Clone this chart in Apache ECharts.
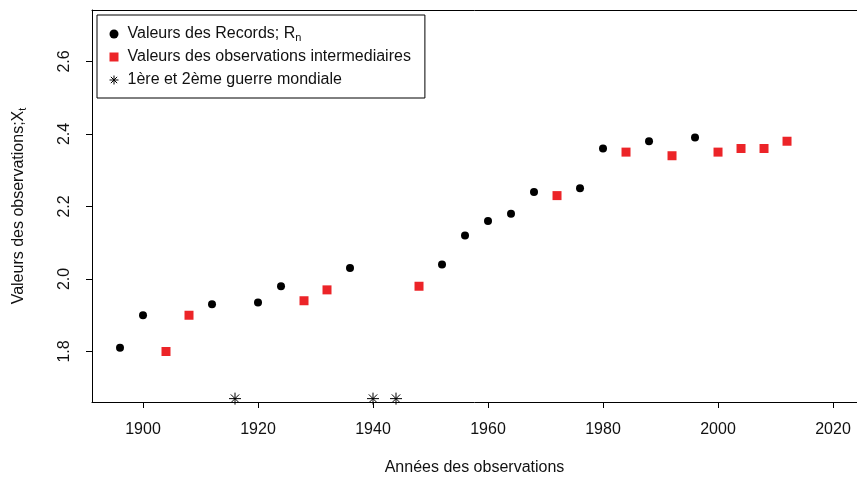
<!DOCTYPE html>
<html>
<head>
<meta charset="utf-8">
<script src="https://cdn.jsdelivr.net/npm/echarts@6/dist/echarts.min.js"></script>
<style>
  html, body { margin: 0; padding: 0; background: #fff; }
  #chart { width: 857px; height: 481px; }
</style>
</head>
<body>
<div id="chart"></div>
<script>
// records (black dots)
const recordYears = [1896, 1900, 1912, 1920, 1924, 1936, 1952, 1956, 1960, 1964, 1968, 1976, 1980, 1988, 1996];
const recordValues = [1.81, 1.90, 1.93, 1.935, 1.98, 2.03, 2.04, 2.12, 2.16, 2.18, 2.24, 2.25, 2.36, 2.38, 2.39];

// intermediate observations (red squares)
const interYears = [1904, 1908, 1928, 1932, 1948, 1972, 1984, 1992, 2000, 2004, 2008, 2012];
const interValues = [1.80, 1.90, 1.94, 1.97, 1.98, 2.23, 2.35, 2.34, 2.35, 2.36, 2.36, 2.38];

// world wars (stars)
const warYears = [1916, 1940, 1944];
const warValues = [1.67, 1.67, 1.67];

const xTicks = [1900, 1920, 1940, 1960, 1980, 2000, 2020];
const yTicks = [1.8, 2.0, 2.2, 2.4, 2.6];

const font = 'Liberation Sans, Arial, sans-serif';
const starPath = 'path://M0,5L10,5M5,0L5,10M1.5,1.5L8.5,8.5M8.5,1.5L1.5,8.5';
const starStyle = { color: 'none', borderColor: '#000', borderWidth: 1, opacity: 1 };

const zip = (xs, ys) => xs.map((x, i) => [x, ys[i]]);

const chart = echarts.init(document.getElementById('chart'));

chart.setOption({
    animation: false,
    grid: { left: 92, top: 10, right: 0, bottom: 79 },
    legend: {
        orient: 'vertical',
        left: 97, top: 15,
        borderColor: '#000', borderWidth: 1,
        padding: [9, 14, 8, 10],
        itemWidth: 9, itemHeight: 9,
        itemGap: 3,
        textStyle: {
            fontFamily: font, fontSize: 16, color: '#111', lineHeight: 20,
            padding: [0, 0, 0, 4],
            rich: {
                sub: { fontFamily: font, fontSize: 11, color: '#111', padding: [7, 0, 0, 0] }
            }
        },
        formatter: function (name) {
            if (name === 'rec') return 'Valeurs des Records; R{sub|n}';
            if (name === 'inter') return 'Valeurs des observations intermediaires';
            return '1ère et 2ème guerre mondiale';
        },
        data: [
            { name: 'rec', icon: 'circle', itemStyle: { color: '#000', opacity: 1 } },
            { name: 'inter', icon: 'rect', itemStyle: { color: '#ec2428', opacity: 1 } },
            { name: 'war', icon: starPath, itemStyle: starStyle }
        ]
    },
    xAxis: [
        {
            type: 'value',
            position: 'bottom',
            min: 1891.13, max: 2024.17,
            name: 'Années des observations',
            nameLocation: 'middle',
            nameGap: 58,
            nameTextStyle: { fontFamily: font, fontSize: 16, color: '#111' },
            splitLine: { show: false },
            axisLine: { onZero: false, lineStyle: { color: '#000' } },
            axisTick: { customValues: xTicks, length: 6, lineStyle: { color: '#000' } },
            axisLabel: {
                customValues: xTicks, margin: 20, fontFamily: font, fontSize: 16, color: '#111',
                formatter: v => String(v)
            }
        },
        {
            // top edge of the box
            type: 'value',
            position: 'top',
            min: 1891.13, max: 2024.17,
            splitLine: { show: false },
            axisLine: { show: true, onZero: false, lineStyle: { color: '#000' } },
            axisTick: { show: false },
            axisLabel: { show: false }
        }
    ],
    yAxis: {
        type: 'value',
        min: 1.6607, max: 2.742,
        name: 'Valeurs des observations;X{sub|t}',
        nameLocation: 'middle',
        nameRotate: 90,
        nameGap: 64,
        nameTextStyle: {
            fontFamily: font, fontSize: 16, color: '#111',
            rich: { sub: { fontFamily: font, fontSize: 11, color: '#111', padding: [7, 0, 0, 0] } }
        },
        splitLine: { show: false },
        axisLine: { show: true, onZero: false, lineStyle: { color: '#000' } },
        axisTick: { customValues: yTicks, length: 6, lineStyle: { color: '#000' } },
        axisLabel: {
            customValues: yTicks, rotate: 90, margin: 19,
            fontFamily: font, fontSize: 16, color: '#111',
            formatter: v => v.toFixed(1)
        }
    },
    series: [
        {
            name: 'rec', type: 'scatter', symbol: 'circle', symbolSize: 8,
            itemStyle: { color: '#000', opacity: 1 },
            data: zip(recordYears, recordValues)
        },
        {
            name: 'inter', type: 'scatter', symbol: 'rect', symbolSize: 9,
            itemStyle: { color: '#ec2428', opacity: 1 },
            data: zip(interYears, interValues)
        },
        {
            name: 'war', type: 'scatter', symbol: starPath, symbolSize: 12,
            clip: false,
            itemStyle: starStyle,
            data: zip(warYears, warValues)
        }
    ]
});
</script>
</body>
</html>
